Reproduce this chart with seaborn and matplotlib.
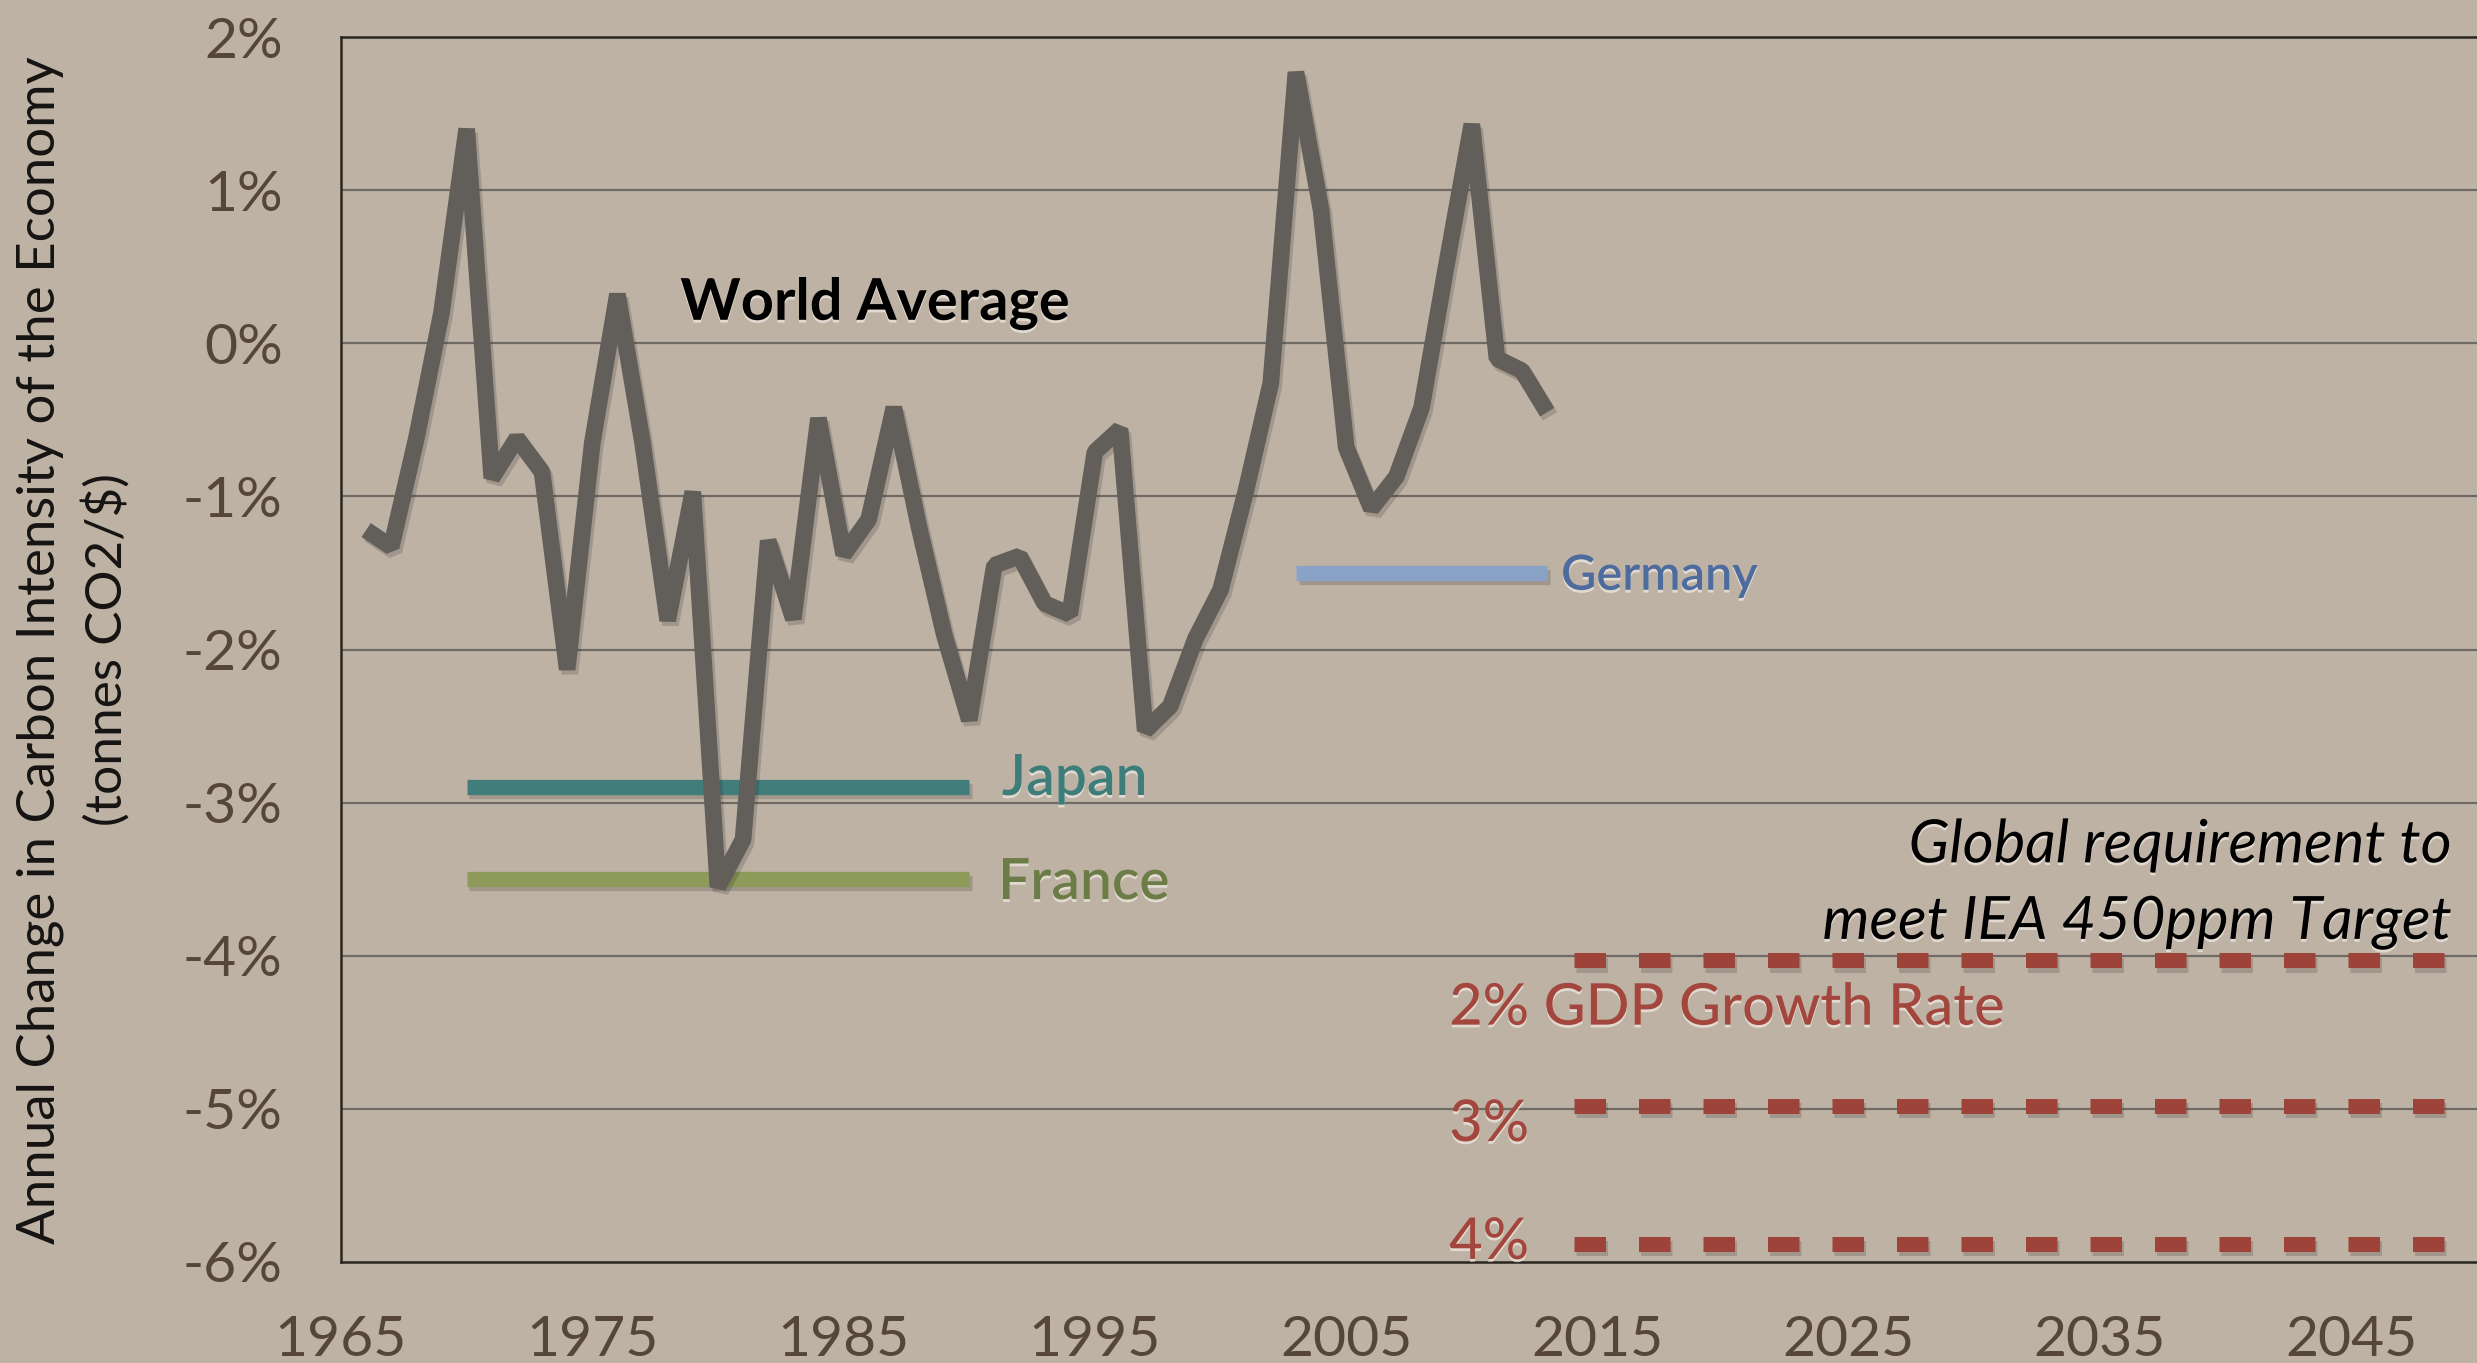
import numpy as np
import pandas as pd
import matplotlib
matplotlib.use("Agg")
import matplotlib.pyplot as plt
import matplotlib.patheffects as pe
import seaborn as sns

#   Data
years = list(range(1966, 2014))
world_avg = [-1.22, -1.33, -0.62, 0.20, 1.40, -0.88, -0.62, -0.84, -2.13, -0.65,
             0.32, -0.65, -1.81, -0.97, -3.55, -3.24, -1.29, -1.80, -0.49, -1.38,
             -1.15, -0.42, -1.20, -1.90, -2.46, -1.45, -1.39, -1.70, -1.77, -0.71,
             -0.56, -2.53, -2.37, -1.93, -1.61, -0.97, -0.26, 1.77, 0.87, -0.68,
             -1.08, -0.87, -0.42, 0.52, 1.43, -0.10, -0.18, -0.45]

country_names = ["Japan", "France", "Germany"]
country_years = [(1970, 1990), (1970, 1990), (2003, 2013)]
country_values = [-2.90, -3.50, -1.50]
country_colors = ["#417d7a", "#8d9a59", "#8aa2c6"]
country_text_colors = ["#3d7d7a", "#6b7c47", "#4e6b9e"]

target_labels = ["2% GDP Growth Rate", "3%", "4%"]
target_years = (2014.05, 2050)
target_values = [-4.03, -4.98, -5.88]

x_ticks = [1965, 1975, 1985, 1995, 2005, 2015, 2025, 2035, 2045]
y_ticks = [2, 1, 0, -1, -2, -3, -4, -5, -6]

BG = "#beb2a5"
TICK_C = "#56453a"
RED = "#9e4339"

sns.set_theme(style="white")
plt.rcParams["font.family"] = ["Lato", "DejaVu Sans"]

W, H = 2477, 1363
fig = plt.figure(figsize=(W / 100, H / 100), dpi=100, facecolor=BG)
ax = fig.add_axes([341 / W, 101 / H, (W - 341) / W, (1262 - 37) / H])
ax.set_facecolor(BG)

glow = [pe.withSimplePatchShadow(offset=(0, -2), shadow_rgbFace="#efe8df", alpha=0.75)]
line_fx = [pe.SimpleLineShadow(offset=(2, -3), shadow_color="k", alpha=0.18), pe.Normal()]

#   Grid lines
for v in y_ticks[1:-1]:
    ax.axhline(v, color="#6f6a64", lw=1.6, zorder=1)

#   World average
df = pd.DataFrame({"year": years, "val": world_avg})
sns.lineplot(data=df, x="year", y="val", ax=ax, color="#625e59", lw=12,
             solid_joinstyle="bevel", solid_capstyle="butt", zorder=4,
             path_effects=line_fx)

#   Country averages
for name, (y0, y1), v, c in zip(country_names, country_years, country_values, country_colors):
    sns.lineplot(x=[y0, y1], y=[v, v], ax=ax, color=c, lw=11,
                 solid_capstyle="butt", zorder=3, path_effects=line_fx)

#   Target lines (square dotted)
for v in target_values:
    sns.lineplot(x=list(target_years), y=[v, v], ax=ax, color=RED, lw=10.8,
                 linestyle=(0, (2.1, 2.2)), dash_capstyle="butt", zorder=3,
                 path_effects=line_fx)

ax.set_xlim(1965, 2050)
ax.set_ylim(-6, 2)
ax.set_xticks(x_ticks)
ax.set_yticks(y_ticks)
ax.set_xticklabels([str(t) for t in x_ticks])
ax.set_yticklabels([f"{t}%" for t in y_ticks])
ax.tick_params(axis="both", length=0, labelsize=41, labelcolor=TICK_C)
ax.tick_params(axis="y", pad=42)
ax.tick_params(axis="x", pad=38)
ax.set_xlabel("")
ax.set_ylabel("")

for side in ["left", "top", "bottom"]:
    ax.spines[side].set_color("#2b2520")
    ax.spines[side].set_linewidth(1.8)
ax.spines["right"].set_visible(False)

#   Annotations
ax.text(1978.5, 0.153, "World Average", fontsize=41.5, fontweight="bold",
        color="black", va="baseline", ha="left", zorder=6, path_effects=glow)

label_pos = [(1991.3, -2.95), (1991.15, -3.63), (2013.55, -1.61)]
label_sizes = [41, 41, 35]
for name, (lx, ly), c, s in zip(country_names, label_pos, country_text_colors, label_sizes):
    ax.text(lx, ly, name, fontsize=s, fontweight="semibold", color=c,
            va="baseline", ha="left", zorder=6, path_effects=glow)

ax.text(2049.0, -3.39, "Global requirement to", fontsize=43, style="italic",
        color="black", ha="right", va="baseline", zorder=6, path_effects=glow)
ax.text(2049.0, -3.89, "meet IEA 450ppm Target", fontsize=43, style="italic",
        color="black", ha="right", va="baseline", zorder=6, path_effects=glow)

target_label_y = [-4.45, -5.21, -5.98]
for t, ty in zip(target_labels, target_label_y):
    ax.text(2009.1, ty, t, fontsize=41.5, fontweight="medium", color="#a3473e",
            ha="left", va="baseline", zorder=6, path_effects=glow)

#   Y axis title, two lines
fig.text(40 / W, 1 - 650 / H, "Annual Change in Carbon Intensity of the Economy",
         rotation=90, ha="center", va="center", fontsize=38, color="#161412")
fig.text(106 / W, 1 - 650 / H, "(tonnes CO2/$)",
         rotation=90, ha="center", va="center", fontsize=37, color="#161412")

fig.savefig("out.png", dpi=100, facecolor=BG)
